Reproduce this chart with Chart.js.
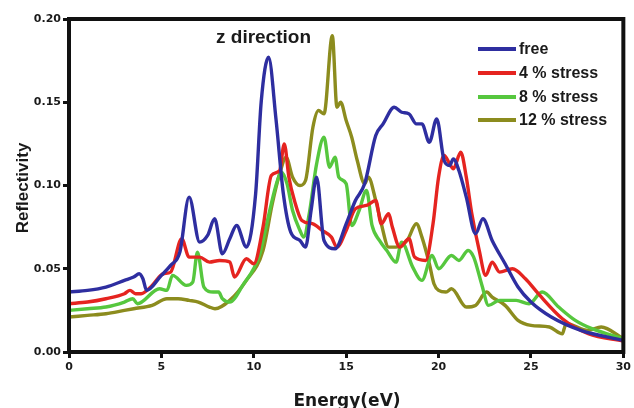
<!DOCTYPE html>
<html>
<head>
<meta charset="utf-8">
<script src="https://cdn.jsdelivr.net/npm/chart.js@4/dist/chart.umd.min.js"></script>
<style>
html,body{margin:0;padding:0;background:#fff;}
#wrap{width:634px;height:408px;}
</style>
</head>
<body>
<div id="wrap"><canvas id="c" width="634" height="408"></canvas></div>
<script>
const seriesNames = ["free", "4 % stress", "8 % stress", "12 % stress"];
const chartTitle = "z direction";
const xTitle = "Energy(eV)";
const yTitle = "Reflectivity";
const xTicks = [0, 5, 10, 15, 20, 25, 30];
const yTicks = [0.00, 0.05, 0.10, 0.15, 0.20];

const freeX = [0,1,2,3,3.5,3.8,4.0,4.2,5,5.5,6,6.5,7.07,7.5,7.88,8.3,8.7,9.07,9.6,10.1,10.4,10.8,11.2,11.6,12.0,12.5,12.8,13.1,13.4,13.8,14.4,15,15.5,16,16.6,17,17.6,18.0,18.4,18.8,19.1,19.5,19.9,20.3,20.6,20.8,21.1,21.5,22.0,22.4,22.9,23.6,24.3,25.0,26.1,27.7,30];
const freeY = [0.036,0.037,0.039,0.043,0.045,0.047,0.044,0.037,0.046,0.052,0.060,0.093,0.066,0.070,0.080,0.059,0.068,0.076,0.063,0.095,0.150,0.177,0.140,0.095,0.072,0.067,0.063,0.085,0.105,0.067,0.062,0.077,0.091,0.101,0.130,0.137,0.147,0.144,0.143,0.137,0.137,0.126,0.140,0.115,0.112,0.116,0.109,0.093,0.071,0.080,0.067,0.053,0.039,0.030,0.021,0.013,0.007];

const s4X = [0,1,2,3,3.3,3.6,3.9,4.5,5.1,5.5,6.1,6.5,7.07,7.6,8.15,8.7,8.96,9.6,10.0,10.5,10.95,11.4,11.65,11.9,12.2,12.6,13.2,13.7,14.2,14.5,15.0,15.5,16.1,16.6,16.9,17.3,17.5,17.9,18.4,18.7,19.3,19.7,20.0,20.3,20.6,20.8,21.2,21.5,21.8,22.2,22.55,22.9,23.3,24.0,24.7,25.4,26.7,28.1,30];
const s4Y = [0.029,0.030,0.032,0.035,0.037,0.035,0.035,0.040,0.047,0.048,0.068,0.057,0.057,0.054,0.055,0.054,0.045,0.056,0.053,0.075,0.106,0.109,0.125,0.105,0.091,0.079,0.077,0.073,0.069,0.063,0.073,0.086,0.088,0.091,0.077,0.083,0.075,0.063,0.068,0.057,0.055,0.077,0.105,0.118,0.113,0.110,0.120,0.105,0.083,0.061,0.046,0.054,0.048,0.050,0.044,0.035,0.020,0.011,0.0066];

const s8X = [0,1,2,3,3.45,3.7,4.9,5.3,5.6,6.35,6.7,6.95,7.3,7.8,8.1,8.3,8.7,9.4,10.3,10.7,11.2,11.5,11.8,12.1,12.5,12.7,13.0,13.4,13.8,14.1,14.4,14.6,15.0,15.3,15.7,16.1,16.4,16.8,17.2,17.7,18.0,18.6,19.1,19.65,20.0,20.7,21.1,21.6,21.9,22.35,22.7,23.3,24.2,24.9,25.6,26.5,27.4,28.3,30];
const s8Y = [0.025,0.026,0.027,0.030,0.032,0.029,0.038,0.037,0.046,0.040,0.042,0.060,0.039,0.036,0.036,0.032,0.030,0.040,0.058,0.077,0.100,0.108,0.101,0.085,0.073,0.069,0.083,0.113,0.129,0.111,0.117,0.105,0.101,0.076,0.085,0.097,0.076,0.067,0.061,0.054,0.066,0.051,0.043,0.058,0.050,0.058,0.055,0.061,0.057,0.040,0.028,0.031,0.031,0.029,0.036,0.027,0.019,0.014,0.008];

const s12X = [0,1,2,3,3.5,4.5,5.3,5.9,6.5,7.0,7.6,7.9,8.7,9.6,10.5,11.0,11.4,11.75,12.1,12.5,12.8,13.2,13.5,13.8,14.25,14.5,14.7,15.0,15.3,15.6,16.0,16.2,16.6,16.9,17.3,17.7,18.3,18.8,19.1,19.5,19.75,20.0,20.4,20.7,21.5,22.0,22.6,22.9,23.6,24.3,25.0,26.0,26.7,26.8,26.9,28.1,28.8,30];
const s12Y = [0.021,0.022,0.023,0.025,0.026,0.028,0.032,0.032,0.031,0.030,0.027,0.026,0.031,0.043,0.061,0.089,0.107,0.117,0.105,0.100,0.103,0.135,0.145,0.143,0.190,0.147,0.150,0.139,0.129,0.115,0.101,0.105,0.091,0.077,0.063,0.063,0.067,0.077,0.069,0.053,0.041,0.037,0.036,0.038,0.027,0.028,0.036,0.033,0.028,0.019,0.016,0.015,0.011,0.014,0.017,0.013,0.015,0.008];

const colors = ["#2e2ea0", "#e52420", "#56c73e", "#8c8c1e"];
const xsAll = [freeX, s4X, s8X, s12X];
const ysAll = [freeY, s4Y, s8Y, s12Y];

const datasets = seriesNames.map((name, i) => ({
  label: name,
  data: xsAll[i].map((x, j) => ({x: x, y: ysAll[i][j]})),
  borderColor: colors[i],
  backgroundColor: colors[i],
  borderWidth: 3.4,
  pointRadius: 0,
  fill: false,
  cubicInterpolationMode: 'monotone'
}));

const decor = {
  id: 'decor',
  afterDatasetsDraw(chart) {
    const ctx = chart.ctx;
    const a = chart.chartArea;
    ctx.save();
    // frame
    ctx.strokeStyle = '#111';
    ctx.lineWidth = 4;
    ctx.strokeRect(a.left, a.top, a.right - a.left, a.bottom - a.top);
    // chart title
    ctx.fillStyle = '#1a1a1a';
    ctx.font = 'bold 19px "Liberation Sans", Arial, sans-serif';
    ctx.textAlign = 'left';
    ctx.textBaseline = 'middle';
    ctx.fillText(chartTitle, 216, 38);
    // legend
    ctx.font = 'bold 16px "Liberation Sans", Arial, sans-serif';
    const rows = [49, 73, 97, 120];
    chart.data.datasets.forEach((ds, i) => {
      ctx.strokeStyle = ds.borderColor;
      ctx.lineWidth = 4;
      ctx.beginPath();
      ctx.moveTo(478, rows[i]);
      ctx.lineTo(516, rows[i]);
      ctx.stroke();
      ctx.fillStyle = '#1a1a1a';
      ctx.fillText(ds.label, 519, rows[i] + 1);
    });
    // axis titles
    ctx.font = 'bold 17px "DejaVu Sans", sans-serif';
    ctx.textAlign = 'center';
    ctx.textBaseline = 'alphabetic';
    ctx.fillText(xTitle, 347, 406);
    ctx.translate(28, 188);
    ctx.rotate(-Math.PI / 2);
    ctx.font = 'bold 17px "Liberation Sans", Arial, sans-serif';
    ctx.textBaseline = 'alphabetic';
    ctx.fillText(yTitle, 0, 0);
    ctx.restore();
  }
};

new Chart(document.getElementById('c'), {
  type: 'line',
  data: { datasets: datasets },
  options: {
    responsive: false,
    animation: false,
    layout: { padding: { top: 19, right: 9, left: 0, bottom: 0 } },
    plugins: { legend: { display: false }, tooltip: { enabled: false } },
    scales: {
      x: {
        type: 'linear',
        min: 0, max: 30,
        afterFit(s) { s.height = 56; },
        afterBuildTicks(s) { s.ticks = xTicks.map(v => ({value: v})); },
        grid: { display: true, drawOnChartArea: false, drawTicks: true, tickLength: 6, tickWidth: 3, tickColor: '#111' },
        border: { display: false },
        ticks: { color: '#1a1a1a', padding: 3, maxRotation: 0, font: { family: '"DejaVu Sans", sans-serif', weight: 'bold', size: 11 } }
      },
      y: {
        min: 0, max: 0.2,
        afterFit(s) { s.width = 69; },
        afterBuildTicks(s) { s.ticks = yTicks.map(v => ({value: v})); },
        grid: { display: true, drawOnChartArea: false, drawTicks: true, tickLength: 6, tickWidth: 3, tickColor: '#111' },
        border: { display: false },
        ticks: { color: '#1a1a1a', padding: 2, callback: v => Number(v).toFixed(2), font: { family: '"DejaVu Sans", sans-serif', weight: 'bold', size: 11 } }
      }
    }
  },
  plugins: [decor]
});
</script>
</body>
</html>
